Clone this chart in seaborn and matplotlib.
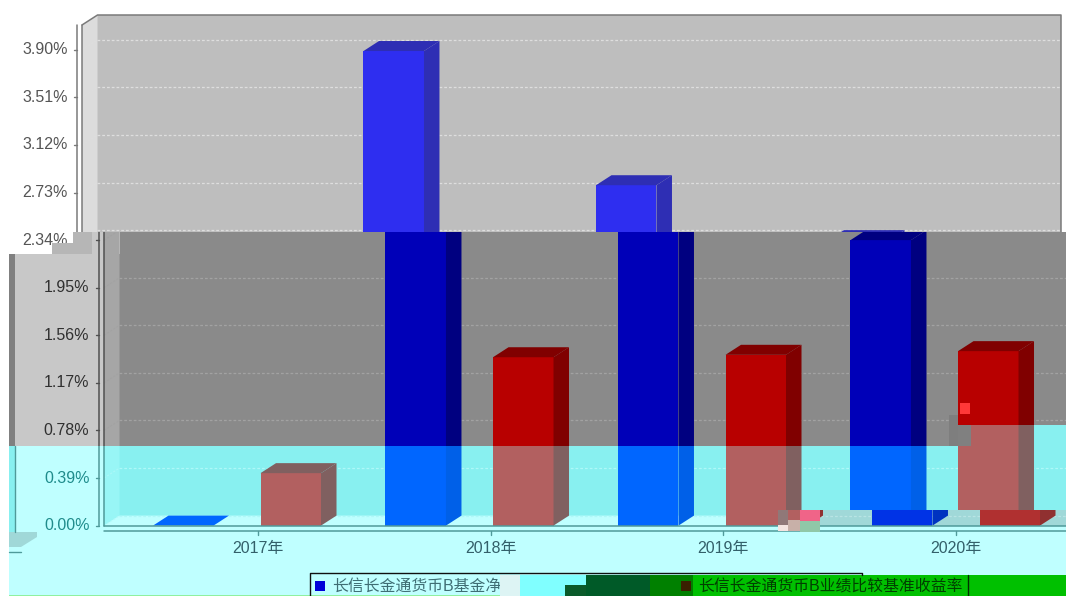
import numpy as np
import pandas as pd
import matplotlib
matplotlib.use("Agg")
import matplotlib.pyplot as plt
from matplotlib.patches import Polygon, Rectangle
import seaborn as sns

# ---------- data ----------
years = ["2017年", "2018年", "2019年", "2020年"]
fund_b = [0.00, 3.89, 2.79, 2.34]
benchmark = [0.43, 1.38, 1.40, 1.43]
series_names = ["长信长金通货币B基金净值收益率", "长信长金通货币B业绩比较基准收益率"]
y_ticks = [0.00, 0.39, 0.78, 1.17, 1.56, 1.95, 2.34, 2.73, 3.12, 3.51, 3.90]

df = pd.DataFrame({
    "year": years * 2,
    "value": fund_b + benchmark,
    "series": [series_names[0]] * 4 + [series_names[1]] * 4,
})

# ---------- layout ----------
W, H = 1066, 596
sns.set_theme(style="white")
plt.rcParams["font.family"] = ["Liberation Sans", "Noto Sans CJK SC", "DejaVu Sans"]
plt.rcParams["axes.unicode_minus"] = False
fig = plt.figure(figsize=(W / 100, H / 100), dpi=100, facecolor="white")

ZERO_PX, PX_PER_UNIT = 525.6, 122.0
CENTER_PX, PX_PER_CAT = 237.0, 232.5
DX, DY = 15.5 / PX_PER_CAT, 10 / PX_PER_UNIT
def xd(px): return (px - CENTER_PX) / PX_PER_CAT
def yd(py): return (ZERO_PX - py) / PX_PER_UNIT

X_AXIS_L = xd(104)
X_AXIS_LL = xd(99)
X_WALL_R = xd(1083)
Y_TOP = yd(25)
TICK_OFF = 21 / PX_PER_CAT

LIGHT = dict(outer="#FFFFFF", wall="#BEBEBE", lwall="#DCDCDC", floor="#BEBEBE", grid="#DEDEDE",
             blue="#2E2EF0", blue2="#2E2EB4", red="#E03030", red2="#B03030",
             line="#7A7A7A", text="#555555")
MID = dict(outer="#C8C8C8", wall="#8A8A8A", lwall="#A6A6A6", floor="#8A8A8A", grid="#A2A2A2",
           blue="#0000B8", blue2="#000080", red="#B80000", red2="#800000",
           line="#505050", text="#303030")
CYAN = dict(outer="#BFFFFF", wall="#88F0F0", lwall="#98F6F6", floor="#BFFFFF", grid="#AEF8F8",
            blue="#0066FF", blue2="#0060E8", red="#B26060", red2="#806060",
            line="#4F9A9A", text="#1F8C8C")
STRIP = dict(outer="#A0D8D8", wall="#A0D8D8", lwall="#A0D8D8", floor="#A0D8D8", grid="#B8E4E4",
             blue="#0033E6", blue2="#0033C0", red="#B03030", red2="#903030",
             line="#4F9A9A", text="#1F8C8C")


def band(left, top, right, bottom, shift, pal, frame=True, xlabels=False):
    ax = fig.add_axes([left / W, 1 - bottom / H, (right - left) / W, (bottom - top) / H])
    sns.barplot(data=df, x="year", y="value", hue="series", hue_order=series_names,
                palette=[pal["blue"], pal["red"]], width=0.925, gap=0.4376,
                saturation=1, legend=False, ax=ax, zorder=3, linewidth=0)
    ax.set_xlim(xd(left - shift), xd(right - shift))
    ax.set_ylim(yd(bottom), yd(top))
    ax.axis("off")
    ax.add_patch(Rectangle((0, 0), 1, 1, transform=ax.transAxes, fc=pal["outer"], ec="none", zorder=0.1))
    ax.add_patch(Rectangle((X_AXIS_L + DX, DY), X_WALL_R - X_AXIS_L - DX, Y_TOP, fc=pal["wall"], ec="none", zorder=0.5))
    ax.add_patch(Polygon([(X_AXIS_L, 0), (X_AXIS_L + DX, DY), (X_AXIS_L + DX, Y_TOP + DY), (X_AXIS_L, Y_TOP)],
                         fc=pal["lwall"], ec="none", zorder=0.6))
    ax.add_patch(Polygon([(X_AXIS_L, 0), (X_AXIS_L + DX, DY), (X_WALL_R, DY), (X_WALL_R - DX, 0)],
                         fc=pal["floor"], ec="none", zorder=0.6))
    for t in y_ticks:
        ax.plot([X_AXIS_L + DX, X_WALL_R], [t + DY, t + DY], color=pal["grid"], lw=0.9, ls=(0, (2.2, 1.6)), zorder=0.8)
        ax.plot([X_AXIS_L, X_AXIS_L + DX], [t, t + DY], color=pal["grid"], lw=0.7, ls=(0, (2.2, 1.6)), zorder=0.8)
        ax.plot([xd(96), X_AXIS_LL], [t, t], color=pal["line"], lw=1, zorder=2)
        label_px = 89.5 + shift
        label_py = ZERO_PX - t * PX_PER_UNIT
        if left <= label_px <= right and top <= label_py <= bottom:
            ax.text(xd(89.5), t, f"{t:.2f}%", ha="right", va="center", fontsize=11.5,
                    color=pal["text"], clip_on=True)
    # 3-D faces built from the bars the library drew
    for cont, c2 in zip(ax.containers, [pal["blue2"], pal["red2"]]):
        for p in cont:
            x, w, h = p.get_x(), p.get_width(), p.get_height()
            ax.add_patch(Polygon([(x + w, 0), (x + w + DX, DY), (x + w + DX, h + DY), (x + w, h)],
                                 fc=c2, ec="none", zorder=3.1))
            top_col = p.get_facecolor() if h == 0 else c2
            ax.add_patch(Polygon([(x, h), (x + DX, h + DY), (x + w + DX, h + DY), (x + w, h)],
                                 fc=top_col, ec="none", zorder=3.1))
    # axis lines
    ax.plot([X_AXIS_LL, X_AXIS_LL], [0, Y_TOP], color=pal["line"], lw=1.1, zorder=4)
    ax.plot([X_AXIS_L, X_AXIS_L], [0, Y_TOP], color=pal["line"], lw=1.1, zorder=4)
    ax.plot([X_AXIS_L, X_WALL_R], [0, 0], color=pal["line"], lw=1.1, zorder=4)
    ax.plot([X_AXIS_L, X_WALL_R], [yd(531), yd(531)], color=pal["line"], lw=1.1, zorder=4)
    if frame:
        ax.plot([X_AXIS_L, X_AXIS_L + DX, X_WALL_R, X_WALL_R],
                [Y_TOP, Y_TOP + DY, Y_TOP + DY, 0], color=pal["line"], lw=1.1, zorder=4)
    if xlabels:
        for i, y in enumerate(years):
            ax.plot([i + TICK_OFF] * 2, [yd(531), yd(535)], color=pal["line"], lw=1, zorder=4)
            ax.text(i + TICK_OFF, yd(549), y, ha="center", va="center", fontsize=11.5,
                    color="#33606A", clip_on=True)
    return ax


SHIFT_UP = -22
band(0, 0, W, 232, SHIFT_UP, LIGHT)
band(0, 232, 73, 254, SHIFT_UP, LIGHT)
band(92, 232, W, 254, 0, MID, frame=False)
band(9, 254, W, 446, 0, MID, frame=False)
band(9, 446, W, H, 0, CYAN, frame=False, xlabels=True)
band(958, 425, W, 446, 0, CYAN, frame=False)
band(820, 510, W, 525.6, 21.5, STRIP, frame=False)

# ---------- overlay: damaged blocks and legend ----------
ov = fig.add_axes([0, 0, 1, 1], zorder=50)
ov.set_xlim(0, W)
ov.set_ylim(H, 0)
ov.axis("off")
ov.patch.set_alpha(0)

def block(x0, y0, x1, y1, color, z=1):
    ov.add_patch(Rectangle((x0, y0), x1 - x0, y1 - y0, fc=color, ec="none", zorder=z))

# left-side fragments
block(73, 232, 92, 254, "#B6B6B6")
block(52, 243, 73, 254, "#B6B6B6")
block(9, 254, 15, 446, "#808080")
block(9, 446, 15, 532, "#88F0F0")
ov.plot([15, 15], [446, 532], color="#4F9A9A", lw=1)
ov.add_patch(Polygon([(9, 532), (37, 532), (37, 537), (21, 547), (9, 547)], fc="#A0D8D8", ec="none"))
ov.plot([9, 21], [552, 552], color="#4F9A9A", lw=1)

# damaged patches near the x axis and the 2020 bar
block(778, 510, 788, 525, "#907878")
block(788, 510, 800, 520, "#B26060")
block(800, 510, 820, 521, "#F06488")
block(788, 520, 800, 531, "#C8B0A8")
block(778, 525, 788, 531, "#F4E4E0")
block(800, 521, 820, 532, "#90C8A8")
block(949, 415, 958, 446, "#7E7E7E")
block(958, 425, 971, 446, "#808080")
block(960, 403, 970, 414, "#FF3838")

# legend
block(500, 575, 520, 596, "#DDF4F4", z=3)
block(520, 575, 586, 596, "#80FFFF", z=3)
block(565, 585, 586, 596, "#0A5A2A", z=3)
block(586, 575, 650, 596, "#005A28", z=3)
block(650, 575, 693, 596, "#008000", z=3)
block(693, 575, W, 596, "#00C000", z=3)
block(681, 581, 691, 591, "#3A2000", z=3.1)
block(9, 595, 693, 596, "#90F0A0", z=2)
ov.plot([310, 310, 862, 862], [596, 572.5, 572.5, 575], color="#101010", lw=1, zorder=4)
ov.plot([968, 968], [575, 596], color="#003000", lw=1, zorder=4)
block(315, 581, 325, 591, "#0000D8", z=2)
ov.text(332, 586.5, series_names[0], fontsize=11.4, color="#3F6E74", ha="left", va="center", zorder=2)
ov.text(698, 586.5, series_names[1], fontsize=11.4, color="#004000", ha="left", va="center", zorder=4)

fig.savefig("out.png", dpi=100)
